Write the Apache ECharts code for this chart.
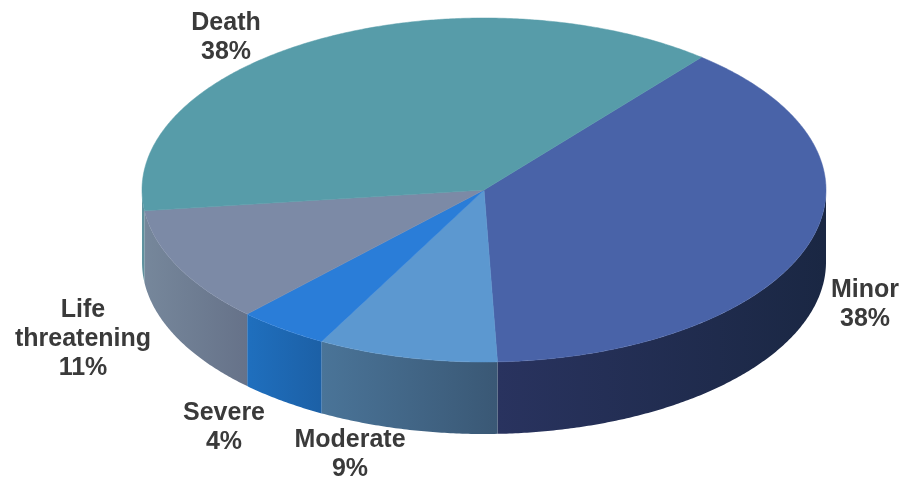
<!DOCTYPE html>
<html>
<head>
<meta charset="utf-8">
<style>html,body{margin:0;padding:0;background:#fff}#c{width:906px;height:479px}</style>
<script src="https://cdn.jsdelivr.net/npm/echarts@6/dist/echarts.min.js"></script>
</head>
<body>
<div id="c"></div>
<script>
const categories = ['Minor', 'Moderate', 'Severe', 'Life\nthreatening', 'Death'];
// shares; the labels show them rounded
const values = [38.4, 8.5, 4.3, 10.9, 37.9];
const topColors = ['#4963a8', '#5c98d0', '#2a7dd8', '#7c8aa6', '#579ca9'];
const sideFrom = ['#29335f', '#4a7498', '#1f6fbe', '#76879b', '#5f97a3'];
const sideTo = ['#1a2743', '#3a5875', '#1c60a6', '#667289', '#5f8a98'];
const labelAnchors = [[865, 305], [350, 455], [224, 428], [83, 339], [226, 38]];

const startAngle = 39.5;
const total = values.reduce((a, b) => a + b, 0);
const cx = 484, cy = 190, rx = 342, ry = 172, depth = 72;

function pt(deg, dy) {
  const r = deg * Math.PI / 180;
  return [cx + rx * Math.sin(r), cy - ry * Math.cos(r) + (dy || 0)];
}
function arc(a0, a1, dy) {
  const pts = [];
  const n = Math.max(2, Math.ceil(Math.abs(a1 - a0) / 0.5));
  for (let i = 0; i <= n; i++) pts.push(pt(a0 + (a1 - a0) * i / n, dy));
  return pts;
}
function sliceAngles(idx) {
  let before = 0;
  for (let i = 0; i < idx; i++) before += values[i];
  return [startAngle + before / total * 360, startAngle + (before + values[idx]) / total * 360];
}
function renderItem(params, api) {
  const i = api.value(0);
  const a = sliceAngles(i);
  const children = [];
  // visible front wall: angles between 90 and 270
  const s0 = Math.max(a[0], 90), s1 = Math.min(a[1], 270);
  if (s1 > s0) {
    children.push({
      type: 'polygon',
      shape: { points: arc(s0, s1, 0).concat(arc(s1, s0, depth)) },
      z2: 1,
      style: {
        fill: new echarts.graphic.LinearGradient(0, 0, 1, 0, [
          { offset: 0, color: sideFrom[i] },
          { offset: 1, color: sideTo[i] }
        ]),
        stroke: null
      }
    });
  }
  children.push({
    type: 'polygon',
    shape: { points: [[cx, cy]].concat(arc(a[0], a[1], 0)) },
    z2: 2,
    style: { fill: topColors[i], stroke: topColors[i], lineWidth: 0.5 }
  });
  children.push({
    type: 'text',
    z2: 3,
    style: {
      text: categories[i] + '\n' + Math.round(api.value(1)) + '%',
      x: labelAnchors[i][0],
      y: labelAnchors[i][1],
      align: 'center',
      verticalAlign: 'middle',
      fontFamily: 'Liberation Sans',
      fontWeight: 'bold',
      fontSize: 25,
      lineHeight: 29,
      fill: '#3a3a3a'
    }
  });
  return { type: 'group', children };
}
const chart = echarts.init(document.getElementById('c'), null, { renderer: 'canvas' });
chart.setOption({
  animation: false,
  backgroundColor: '#ffffff',
  series: [{
    type: 'custom',
    coordinateSystem: 'none',
    clip: false,
    renderItem,
    data: categories.map((c, i) => ({ name: c, value: [i, values[i]] }))
  }]
});
</script>
</body>
</html>
